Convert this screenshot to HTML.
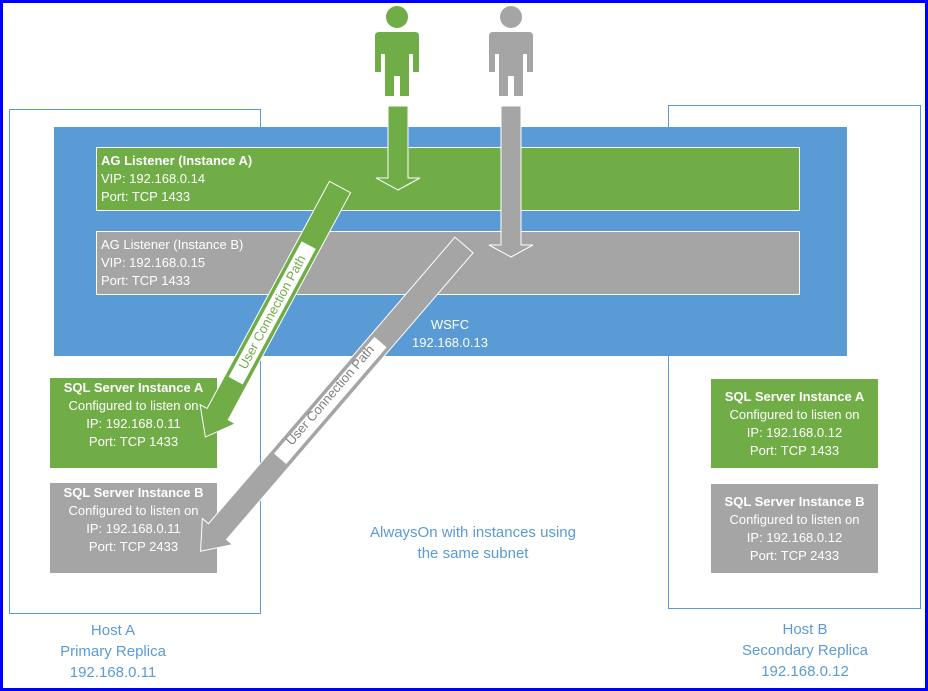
<!DOCTYPE html>
<html><head><meta charset="utf-8"><style>
html,body{margin:0;padding:0}
body{width:928px;height:691px;position:relative;overflow:hidden;background:#fff;font-family:"Liberation Sans",sans-serif}
.frame{position:absolute;left:0;top:0;width:922px;height:685px;border:3px solid #0000ff}
.t{position:absolute;font-size:13px;color:#fff;line-height:18px}
.c{text-align:center}
.blue{color:#5b9bd5;font-size:15px;line-height:21px}
</style></head><body>
<svg width="928" height="691" style="position:absolute;left:0;top:0">
<rect x="9.5" y="109.5" width="251" height="504" fill="none" stroke="#5b9bd5"/>
<rect x="668.5" y="105.5" width="252" height="503" fill="none" stroke="#5b9bd5"/>
<rect x="54" y="127" width="793" height="229" fill="#5b9bd5"/>
<rect x="96.5" y="147.5" width="703" height="63" fill="#70ad47" stroke="#fff"/>
<rect x="96.5" y="231.5" width="703" height="63" fill="#a5a5a5" stroke="#fff"/>
<rect x="50" y="378" width="167" height="90" fill="#70ad47"/>
<rect x="50" y="483" width="167" height="90" fill="#a5a5a5"/>
<rect x="711" y="379" width="167" height="89" fill="#70ad47"/>
<rect x="711" y="484" width="167" height="89" fill="#a5a5a5"/>
<g fill="#70ad47">
<circle cx="397" cy="17" r="11"/>
<path d="M379 32 H415 Q419 32 419 36 V72 H413 V54 H409 V96 H400 V76 H394 V96 H385 V54 H381 V72 H375 V36 Q375 32 379 32Z"/>
</g>
<g fill="#a5a5a5">
<circle cx="511" cy="17" r="11"/>
<path d="M493 32 H529 Q533 32 533 36 V72 H527 V54 H523 V96 H514 V76 H508 V96 H499 V54 H495 V72 H489 V36 Q489 32 493 32Z"/>
</g>
<path d="M388 106 H408 V178 H420 L398 190 L376 178 H388Z" fill="#70ad47" stroke="#fff"/>
<path d="M501 106 H521 V245 H533 L511 257 L489 245 H501Z" fill="#a5a5a5" stroke="#fff"/>
<g transform="translate(340,187) rotate(118.3)">
<path d="M0 -12 H258 V-20 L284 0 L258 20 V12 H0Z" fill="#70ad47" stroke="#fff"/>
<rect x="66" y="-8" width="154" height="16" fill="#fff"/>
</g>
<text x="0" y="0" transform="translate(272,312) rotate(-61.7)" text-anchor="middle" font-family="Liberation Sans" font-size="13" fill="#70ad47" dy="4.5">User Connection Path</text>
<g transform="translate(464,245) rotate(130.7)">
<path d="M0 -12 H378 V-20 L404 0 L378 20 V12 H0Z" fill="#a5a5a5" stroke="#fff"/>
<rect x="128" y="-8" width="154" height="16" fill="#fff"/>
</g>
<text x="0" y="0" transform="translate(330,395) rotate(-49.3)" text-anchor="middle" font-family="Liberation Sans" font-size="13" fill="#7f7f7f" dy="4.5">User Connection Path</text>
</svg>
<div class="frame"></div>
<div class="t" style="left:101px;top:152px"><b>AG Listener (Instance A)</b><br>VIP: 192.168.0.14<br>Port: TCP 1433</div>
<div class="t" style="left:101px;top:236px">AG Listener (Instance B)<br>VIP: 192.168.0.15<br>Port: TCP 1433</div>
<div class="t c" style="left:380px;top:316px;width:140px">WSFC<br>192.168.0.13</div>
<div class="t c" style="left:45px;top:379px;width:177px"><b>SQL Server Instance A</b><br>Configured to listen on<br>IP: 192.168.0.11<br>Port: TCP 1433</div>
<div class="t c" style="left:45px;top:484px;width:177px"><b>SQL Server Instance B</b><br>Configured to listen on<br>IP: 192.168.0.11<br>Port: TCP 2433</div>
<div class="t c" style="left:706px;top:388px;width:177px"><b>SQL Server Instance A</b><br>Configured to listen on<br>IP: 192.168.0.12<br>Port: TCP 1433</div>
<div class="t c" style="left:706px;top:493px;width:177px"><b>SQL Server Instance B</b><br>Configured to listen on<br>IP: 192.168.0.12<br>Port: TCP 2433</div>
<div class="t c blue" style="left:343px;top:522px;width:260px">AlwaysOn with instances using<br>the same subnet</div>
<div class="t c blue" style="left:13px;top:620px;width:200px">Host A<br>Primary Replica<br>192.168.0.11</div>
<div class="t c blue" style="left:705px;top:619px;width:200px">Host B<br>Secondary Replica<br>192.168.0.12</div>
</body></html>
